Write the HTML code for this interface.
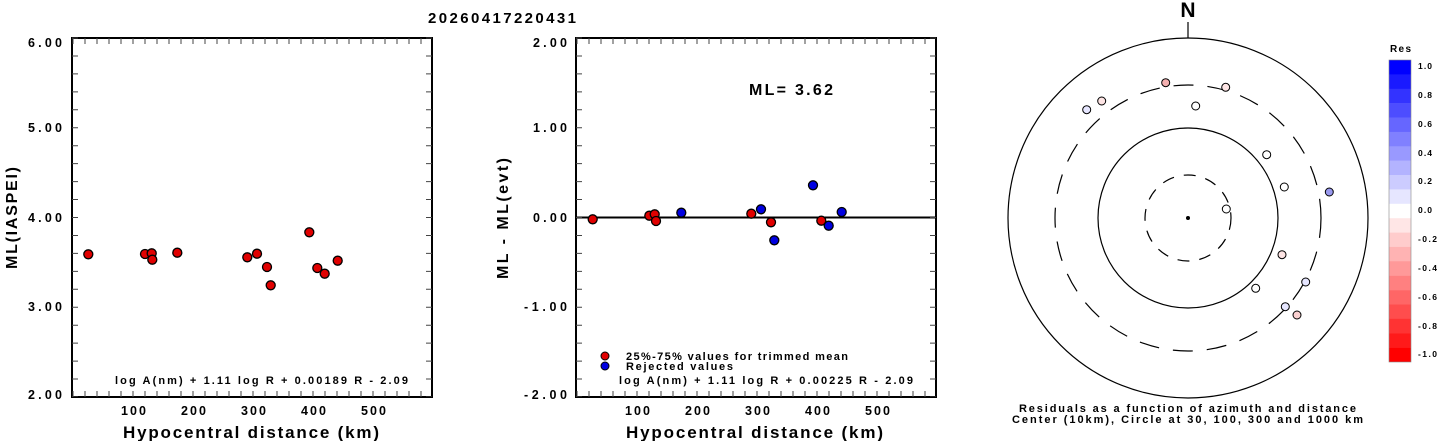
<!DOCTYPE html>
<html><head><meta charset="utf-8"><style>
html,body{margin:0;padding:0;background:#fff;}
svg{display:block;}
text{font-family:"Liberation Sans",Arial,sans-serif;font-weight:bold;fill:#000;}
</style></head><body>
<svg width="1437" height="441" viewBox="0 0 1437 441" xmlns="http://www.w3.org/2000/svg">
<rect width="1437" height="441" fill="#fff"/>
<text x="428" y="23" font-size="15" textLength="148" lengthAdjust="spacing">20260417220431</text>

<!-- LEFT PLOT -->
<g stroke="#000" fill="none">
<rect x="72" y="38" width="360" height="359" stroke-width="2"/>
<line x1="72.5" y1="41" x2="432" y2="41" stroke-width="6" stroke-dasharray="1 11" stroke="#444"/>
<line x1="72.5" y1="394" x2="432" y2="394" stroke-width="6" stroke-dasharray="1 11" stroke="#444"/>
<line x1="75" y1="37.5" x2="75" y2="397" stroke-width="6" stroke-dasharray="1 16.95" stroke="#444"/>
<line x1="429" y1="37.5" x2="429" y2="397" stroke-width="6" stroke-dasharray="1 16.95" stroke="#444"/>
</g>
<g font-size="12.5">
<text x="28" y="47" textLength="34" lengthAdjust="spacing">6.00</text>
<text x="28" y="132" textLength="34" lengthAdjust="spacing">5.00</text>
<text x="28" y="222" textLength="34" lengthAdjust="spacing">4.00</text>
<text x="28" y="311" textLength="34" lengthAdjust="spacing">3.00</text>
<text x="28" y="399" textLength="34" lengthAdjust="spacing">2.00</text>
<text x="121" y="415" textLength="25" lengthAdjust="spacing">100</text>
<text x="181" y="415" textLength="25" lengthAdjust="spacing">200</text>
<text x="241" y="415" textLength="25" lengthAdjust="spacing">300</text>
<text x="301" y="415" textLength="25" lengthAdjust="spacing">400</text>
<text x="361" y="415" textLength="25" lengthAdjust="spacing">500</text>
</g>
<text x="115" y="384" font-size="11" textLength="293" lengthAdjust="spacing">log A(nm) + 1.11 log R + 0.00189 R - 2.09</text>
<text x="123" y="438" font-size="17" textLength="256" lengthAdjust="spacing">Hypocentral distance (km)</text>
<text transform="translate(17,269) rotate(-90)" font-size="16" textLength="102" lengthAdjust="spacing">ML(IASPEI)</text>
<g fill="#e00000" stroke="#000" stroke-width="1.3">
<circle cx="88.3" cy="254.3" r="4.5"/><circle cx="145" cy="254" r="4.5"/><circle cx="151.7" cy="253.3" r="4.5"/><circle cx="152.3" cy="259.7" r="4.5"/><circle cx="177.3" cy="252.7" r="4.5"/><circle cx="247.3" cy="257.3" r="4.5"/><circle cx="257" cy="253.7" r="4.5"/><circle cx="267" cy="267" r="4.5"/><circle cx="270.7" cy="285.3" r="4.5"/><circle cx="309.3" cy="232.3" r="4.5"/><circle cx="317.3" cy="268" r="4.5"/><circle cx="324.7" cy="273.7" r="4.5"/><circle cx="337.7" cy="260.7" r="4.5"/>
</g>

<!-- MIDDLE PLOT -->
<g stroke="#000" fill="none">
<rect x="576" y="38" width="360" height="359" stroke-width="2"/>
<line x1="576" y1="217.5" x2="936" y2="217.5" stroke-width="2"/>
<line x1="576.5" y1="41" x2="936" y2="41" stroke-width="6" stroke-dasharray="1 11" stroke="#444"/>
<line x1="576.5" y1="394" x2="936" y2="394" stroke-width="6" stroke-dasharray="1 11" stroke="#444"/>
<line x1="579" y1="37.5" x2="579" y2="397" stroke-width="6" stroke-dasharray="1 16.95" stroke="#444"/>
<line x1="933" y1="37.5" x2="933" y2="397" stroke-width="6" stroke-dasharray="1 16.95" stroke="#444"/>
</g>
<g font-size="12.5">
<text x="533" y="47" textLength="34" lengthAdjust="spacing">2.00</text>
<text x="533" y="132" textLength="34" lengthAdjust="spacing">1.00</text>
<text x="533" y="222" textLength="34" lengthAdjust="spacing">0.00</text>
<text x="524" y="311" textLength="43" lengthAdjust="spacing">-1.00</text>
<text x="524" y="399" textLength="43" lengthAdjust="spacing">-2.00</text>
<text x="625" y="415" textLength="25" lengthAdjust="spacing">100</text>
<text x="685" y="415" textLength="25" lengthAdjust="spacing">200</text>
<text x="745" y="415" textLength="25" lengthAdjust="spacing">300</text>
<text x="805" y="415" textLength="25" lengthAdjust="spacing">400</text>
<text x="865" y="415" textLength="25" lengthAdjust="spacing">500</text>
</g>
<text x="749" y="95" font-size="16" textLength="84" lengthAdjust="spacing">ML= 3.62</text>
<circle cx="605" cy="356" r="4" fill="#e00000" stroke="#000" stroke-width="1"/>
<circle cx="605" cy="366" r="4" fill="#0000e0" stroke="#000" stroke-width="1"/>
<text x="626" y="360" font-size="11" textLength="222" lengthAdjust="spacing">25%-75% values for trimmed mean</text>
<text x="626" y="370" font-size="11" textLength="107" lengthAdjust="spacing">Rejected values</text>
<text x="619" y="384" font-size="11" textLength="294" lengthAdjust="spacing">log A(nm) + 1.11 log R + 0.00225 R - 2.09</text>
<text x="626" y="438" font-size="17" textLength="257" lengthAdjust="spacing">Hypocentral distance (km)</text>
<text transform="translate(508,279) rotate(-90)" font-size="16" textLength="121" lengthAdjust="spacing">ML - ML(evt)</text>
<g stroke="#000" stroke-width="1.3">
<circle cx="592.7" cy="219.3" r="4.5" fill="#e00000"/><circle cx="649.3" cy="215.7" r="4.5" fill="#e00000"/><circle cx="654.7" cy="214.3" r="4.5" fill="#e00000"/><circle cx="656" cy="221" r="4.5" fill="#e00000"/><circle cx="751.3" cy="213.7" r="4.5" fill="#e00000"/><circle cx="771" cy="222.3" r="4.5" fill="#e00000"/><circle cx="821.3" cy="220.7" r="4.5" fill="#e00000"/>
<circle cx="681.3" cy="212.7" r="4.5" fill="#0000e0"/><circle cx="761" cy="209.3" r="4.5" fill="#0000e0"/><circle cx="774.3" cy="240.3" r="4.5" fill="#0000e0"/><circle cx="813" cy="185.3" r="4.5" fill="#0000e0"/><circle cx="828.7" cy="225.7" r="4.5" fill="#0000e0"/><circle cx="841.7" cy="212" r="4.5" fill="#0000e0"/>
</g>

<!-- POLAR -->
<text x="1188" y="17" font-size="21" text-anchor="middle">N</text>
<g stroke="#000" fill="none" stroke-width="1.2">
<line x1="1188" y1="22" x2="1188" y2="38"/>
<circle cx="1188" cy="218" r="180"/>
<circle cx="1188" cy="218" r="90"/>
<circle cx="1188" cy="218" r="133" stroke-dasharray="20 14"/>
<circle cx="1188" cy="218" r="43" stroke-dasharray="12 10"/>
</g>
<circle cx="1188" cy="218" r="2" fill="#000"/>
<g stroke="#000" stroke-width="1">
<circle cx="1165.7" cy="82.7" r="4" fill="#f4b0b0"/>
<circle cx="1225.7" cy="87.3" r="4" fill="#fde4e4"/>
<circle cx="1101.7" cy="101" r="4" fill="#fde4e4"/>
<circle cx="1086.7" cy="109.7" r="4" fill="#e6e6ff"/>
<circle cx="1195.7" cy="106" r="4" fill="#fff"/>
<circle cx="1266.7" cy="154.7" r="4" fill="#fff"/>
<circle cx="1284.3" cy="187" r="4" fill="#fff"/>
<circle cx="1329.3" cy="192" r="4" fill="#9999ee"/>
<circle cx="1226.3" cy="209" r="4" fill="#fff"/>
<circle cx="1282" cy="254.7" r="4" fill="#fde4e4"/>
<circle cx="1305.7" cy="282" r="4" fill="#e6e6ff"/>
<circle cx="1255.7" cy="288.3" r="4" fill="#fff"/>
<circle cx="1285.3" cy="306.7" r="4" fill="#e6e6ff"/>
<circle cx="1297" cy="315" r="4" fill="#fad0d0"/>
</g>
<text x="1019" y="412" font-size="11" textLength="337" lengthAdjust="spacing">Residuals as a function of azimuth and distance</text>
<text x="1012" y="423" font-size="11" textLength="351" lengthAdjust="spacing">Center (10km), Circle at 30, 100, 300 and 1000 km</text>

<!-- COLORBAR -->
<text x="1390" y="52" font-size="10" textLength="21" lengthAdjust="spacing">Res</text>
<g>
<rect x="1389" y="60" width="22" height="14.6" fill="#0000ff"/>
<rect x="1389" y="74.4" width="22" height="14.6" fill="#1a1aff"/>
<rect x="1389" y="88.8" width="22" height="14.6" fill="#3333ff"/>
<rect x="1389" y="103.1" width="22" height="14.6" fill="#4d4dff"/>
<rect x="1389" y="117.5" width="22" height="14.6" fill="#6666ff"/>
<rect x="1389" y="131.9" width="22" height="14.6" fill="#8080ff"/>
<rect x="1389" y="146.3" width="22" height="14.6" fill="#9999ff"/>
<rect x="1389" y="160.7" width="22" height="14.6" fill="#b3b3ff"/>
<rect x="1389" y="175" width="22" height="14.6" fill="#ccccff"/>
<rect x="1389" y="189.4" width="22" height="14.6" fill="#e6e6ff"/>
<rect x="1389" y="203.8" width="22" height="14.6" fill="#ffffff"/>
<rect x="1389" y="218.2" width="22" height="14.6" fill="#ffe6e6"/>
<rect x="1389" y="232.6" width="22" height="14.6" fill="#ffcccc"/>
<rect x="1389" y="246.9" width="22" height="14.6" fill="#ffb3b3"/>
<rect x="1389" y="261.3" width="22" height="14.6" fill="#ff9999"/>
<rect x="1389" y="275.7" width="22" height="14.6" fill="#ff8080"/>
<rect x="1389" y="290.1" width="22" height="14.6" fill="#ff6666"/>
<rect x="1389" y="304.5" width="22" height="14.6" fill="#ff4d4d"/>
<rect x="1389" y="318.8" width="22" height="14.6" fill="#ff3333"/>
<rect x="1389" y="333.2" width="22" height="14.6" fill="#ff1a1a"/>
<rect x="1389" y="347.6" width="22" height="14.4" fill="#ff0000"/>
<rect x="1389" y="60" width="22" height="302" fill="none" stroke="#888" stroke-width="0.6"/>
</g>
<g font-size="8.5">
<text x="1418" y="69" textLength="14" lengthAdjust="spacing">1.0</text>
<text x="1418" y="98" textLength="14" lengthAdjust="spacing">0.8</text>
<text x="1418" y="127" textLength="14" lengthAdjust="spacing">0.6</text>
<text x="1418" y="156" textLength="14" lengthAdjust="spacing">0.4</text>
<text x="1418" y="184" textLength="14" lengthAdjust="spacing">0.2</text>
<text x="1418" y="213" textLength="14" lengthAdjust="spacing">0.0</text>
<text x="1418" y="242" textLength="19" lengthAdjust="spacing">-0.2</text>
<text x="1418" y="271" textLength="19" lengthAdjust="spacing">-0.4</text>
<text x="1418" y="300" textLength="19" lengthAdjust="spacing">-0.6</text>
<text x="1418" y="329" textLength="19" lengthAdjust="spacing">-0.8</text>
<text x="1418" y="357" textLength="19" lengthAdjust="spacing">-1.0</text>
</g>
</svg>
</body></html>
